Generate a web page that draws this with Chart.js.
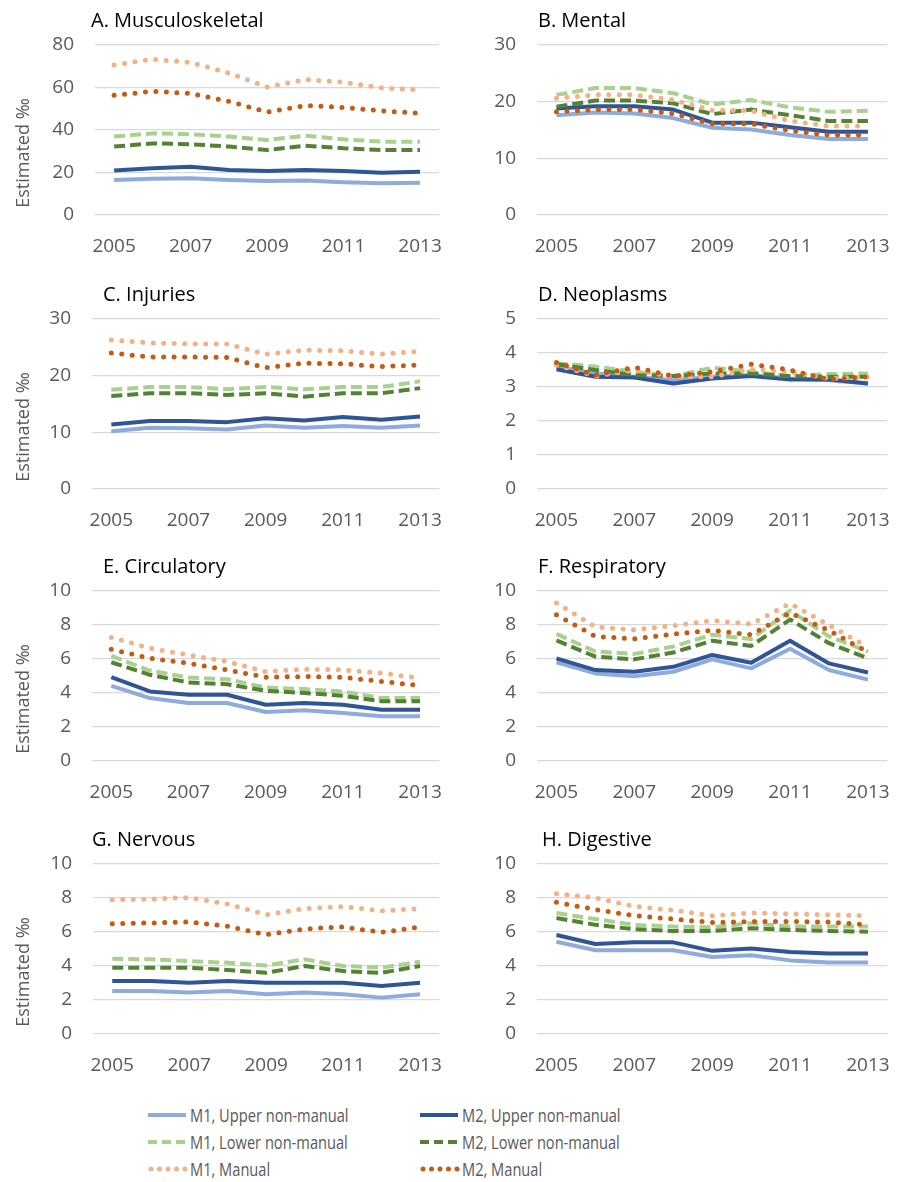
<!DOCTYPE html>
<html>
<head>
<meta charset="utf-8">
<script src="https://cdn.jsdelivr.net/npm/chart.js@4.4.1/dist/chart.umd.min.js"></script>
<style>
body { margin: 0; background: #fff; width: 910px; height: 1182px; position: relative; overflow: hidden; font-family: 'Open Sans', sans-serif; }
canvas { position: absolute; }
.ttl { position: absolute; font-size: 20px; line-height: 24px; color: #000; white-space: nowrap; }
.ylab { position: absolute; width: 200px; text-align: center; font-size: 18px; line-height: 24px; color: #595959; white-space: nowrap; transform: rotate(-90deg); }
.leg { position: absolute; font-size: 19px; line-height: 24px; color: #595959; white-space: nowrap; }
.leg span { display: inline-block; transform: scaleX(0.77); transform-origin: left center; }
.leg svg { position: absolute; }
</style>
</head>
<body>
<div id="wrap"></div>
<script>
// data, order: M1 upper, M2 upper, M1 lower, M2 lower, M1 manual, M2 manual
var years = ['2005', '2006', '2007', '2008', '2009', '2010', '2011', '2012', '2013'];
var series_names = ['M1, Upper non-manual', 'M2, Upper non-manual', 'M1, Lower non-manual',
	'M2, Lower non-manual', 'M1, Manual', 'M2, Manual'];

var musculoskeletal = [
	[16.5, 17.1, 17.3, 16.5, 16.0, 16.2, 15.4, 14.9, 15.2],
	[20.9, 22.0, 22.7, 21.2, 20.7, 21.2, 20.7, 19.9, 20.4],
	[36.9, 38.4, 38.0, 36.9, 35.3, 37.3, 35.6, 34.5, 34.5],
	[32.2, 33.7, 33.3, 32.2, 30.6, 32.6, 31.4, 30.6, 30.6],
	[70.6, 73.3, 71.8, 66.8, 60.2, 63.8, 62.5, 59.8, 58.9],
	[56.3, 58.2, 57.2, 53.5, 48.4, 51.5, 50.6, 49.0, 47.9]
];
var mental = [
	[17.6, 18.1, 17.9, 17.1, 15.4, 15.1, 14.1, 13.4, 13.4],
	[18.8, 19.2, 19.2, 18.6, 16.3, 16.3, 15.5, 14.7, 14.7],
	[21.2, 22.4, 22.4, 21.5, 19.5, 20.3, 19.0, 18.2, 18.4],
	[19.1, 20.2, 20.2, 19.7, 17.8, 18.6, 17.6, 16.6, 16.6],
	[20.6, 21.2, 21.2, 20.3, 18.5, 18.4, 16.6, 15.7, 15.7],
	[18.2, 18.6, 18.6, 17.9, 16.1, 16.1, 14.9, 14.1, 14.1]
];
var injuries = [
	[10.2, 10.8, 10.7, 10.5, 11.2, 10.8, 11.1, 10.8, 11.2],
	[11.4, 12.0, 12.0, 11.8, 12.5, 12.1, 12.7, 12.2, 12.8],
	[17.5, 18.0, 18.0, 17.6, 18.0, 17.6, 18.0, 18.0, 19.0],
	[16.4, 16.9, 16.9, 16.6, 16.9, 16.3, 16.9, 16.9, 17.8],
	[26.3, 25.8, 25.6, 25.6, 23.8, 24.5, 24.4, 23.8, 24.3],
	[24.0, 23.3, 23.3, 23.2, 21.4, 22.2, 22.1, 21.6, 21.9]
];
var neoplasms = [
	[3.60, 3.40, 3.30, 3.20, 3.30, 3.35, 3.25, 3.20, 3.10],
	[3.52, 3.30, 3.28, 3.10, 3.25, 3.32, 3.22, 3.22, 3.10],
	[3.70, 3.60, 3.45, 3.32, 3.57, 3.45, 3.32, 3.38, 3.40],
	[3.67, 3.50, 3.35, 3.32, 3.40, 3.40, 3.32, 3.30, 3.30],
	[3.65, 3.32, 3.50, 3.30, 3.30, 3.52, 3.45, 3.25, 3.30],
	[3.72, 3.35, 3.58, 3.32, 3.45, 3.67, 3.50, 3.22, 3.30]
];
var circulatory = [
	[4.42, 3.70, 3.41, 3.41, 2.88, 2.98, 2.83, 2.63, 2.63],
	[4.93, 4.09, 3.90, 3.90, 3.31, 3.41, 3.31, 3.02, 3.02],
	[6.18, 5.32, 4.91, 4.81, 4.33, 4.23, 4.09, 3.70, 3.70],
	[5.81, 5.07, 4.62, 4.52, 4.13, 4.00, 3.84, 3.51, 3.51],
	[7.27, 6.63, 6.24, 5.85, 5.26, 5.40, 5.36, 5.17, 4.87],
	[6.57, 6.04, 5.75, 5.36, 4.93, 4.97, 4.93, 4.68, 4.44]
];
var respiratory = [
	[5.80, 5.15, 4.99, 5.25, 5.98, 5.45, 6.60, 5.35, 4.79],
	[6.04, 5.35, 5.25, 5.54, 6.24, 5.78, 7.07, 5.74, 5.21],
	[7.48, 6.44, 6.30, 6.73, 7.43, 7.17, 8.85, 7.33, 6.44],
	[7.09, 6.14, 5.98, 6.38, 7.07, 6.77, 8.32, 6.93, 6.04],
	[9.30, 7.88, 7.72, 7.96, 8.26, 8.06, 9.27, 8.00, 6.70],
	[8.60, 7.33, 7.19, 7.47, 7.68, 7.43, 8.71, 7.68, 6.40]
];
var nervous = [
	[2.53, 2.53, 2.44, 2.53, 2.34, 2.44, 2.34, 2.14, 2.34],
	[3.12, 3.12, 3.02, 3.12, 3.02, 3.02, 3.02, 2.83, 3.02],
	[4.42, 4.39, 4.29, 4.19, 4.03, 4.39, 4.00, 3.90, 4.25],
	[3.90, 3.90, 3.90, 3.76, 3.60, 4.00, 3.70, 3.60, 4.00],
	[7.90, 7.93, 8.03, 7.64, 7.02, 7.37, 7.50, 7.25, 7.37],
	[6.49, 6.53, 6.60, 6.33, 5.85, 6.18, 6.30, 5.98, 6.30]
];
var digestive = [
	[5.43, 4.93, 4.93, 4.93, 4.53, 4.63, 4.33, 4.21, 4.21],
	[5.82, 5.29, 5.39, 5.39, 4.89, 5.03, 4.83, 4.73, 4.73],
	[7.12, 6.76, 6.42, 6.32, 6.28, 6.52, 6.32, 6.32, 6.32],
	[6.82, 6.42, 6.16, 6.06, 6.06, 6.22, 6.12, 6.06, 6.02],
	[8.25, 8.01, 7.51, 7.28, 6.96, 7.12, 7.06, 7.02, 6.96],
	[7.75, 7.32, 6.96, 6.76, 6.56, 6.62, 6.62, 6.58, 6.42]
];

// line styles per series
const series_styles = [
	{ color: '#8FAADC', dash: [], width: 4, cap: 'butt' },
	{ color: '#2F5597', dash: [], width: 4, cap: 'butt' },
	{ color: '#A9D18E', dash: [11, 5], width: 4, cap: 'butt' },
	{ color: '#548235', dash: [11, 5], width: 4, cap: 'butt' },
	{ color: '#F4B183', dash: [0, 10.5], width: 5, cap: 'round' },
	{ color: '#C55A11', dash: [0, 10.5], width: 5, cap: 'round' },
];

// panel layout
const row_tops = [0, 274, 546, 819];
const panels = [
	{ title: 'A. Musculoskeletal', data: musculoskeletal, max: 80, step: 20, col: 0, row: 0, tx: 91, axis_w: 95 },
	{ title: 'B. Mental', data: mental, max: 30, step: 10, col: 1, row: 0, tx: 538, axis_w: 82 },
	{ title: 'C. Injuries', data: injuries, max: 30, step: 10, col: 0, row: 1, tx: 103, axis_w: 92 },
	{ title: 'D. Neoplasms', data: neoplasms, max: 5, step: 1, col: 1, row: 1, tx: 538, axis_w: 82 },
	{ title: 'E. Circulatory', data: circulatory, max: 10, step: 2, col: 0, row: 2, tx: 103, axis_w: 92 },
	{ title: 'F. Respiratory', data: respiratory, max: 10, step: 2, col: 1, row: 2, tx: 538, axis_w: 82 },
	{ title: 'G. Nervous', data: nervous, max: 10, step: 2, col: 0, row: 3, tx: 92, axis_w: 93 },
	{ title: 'H. Digestive', data: digestive, max: 10, step: 2, col: 1, row: 3, tx: 542, axis_w: 82 },
];

Chart.defaults.font.family = "'Open Sans', sans-serif";
Chart.defaults.color = '#595959';

const wrap = document.getElementById('wrap');

function add_div(cls, text, left, top) {
	const d = document.createElement('div');
	d.className = cls;
	d.textContent = text;
	d.style.left = left + 'px';
	d.style.top = top + 'px';
	wrap.appendChild(d);
	return d;
}

function draw_panel(p) {
	const top = row_tops[p.row];
	const left = p.col === 0 ? 0 : 455;
	const width = p.col === 0 ? 462 : 455;

	const cv = document.createElement('canvas');
	cv.width = width;
	cv.height = 262;
	cv.style.left = left + 'px';
	cv.style.top = top + 'px';
	wrap.appendChild(cv);

	add_div('ttl', p.title, p.tx, top + 8);
	if (p.col === 0) {
		add_div('ylab', 'Estimated \u2030', 22 - 100, top + 153 - 12);
	}

	const datasets = p.data.map((vals, i) => ({
		label: series_names[i],
		data: vals,
		borderColor: series_styles[i].color,
		borderWidth: series_styles[i].width,
		borderDash: series_styles[i].dash,
		borderCapStyle: series_styles[i].cap,
		borderJoinStyle: 'round',
		pointRadius: 0,
		tension: 0,
		fill: false,
		order: 5 - i,
	}));

	new Chart(cv.getContext('2d'), {
		type: 'line',
		data: { labels: years, datasets: datasets },
		options: {
			responsive: false,
			animation: false,
			devicePixelRatio: 1,
			layout: { padding: { top: 45, right: p.col === 0 ? 4 : 6, left: 0, bottom: 0 } },
			plugins: { legend: { display: false }, tooltip: { enabled: false } },
			scales: {
				x: {
					offset: true,
					grid: { display: false, drawTicks: false },
					border: { display: false },
					ticks: {
						autoSkip: false,
						maxRotation: 0,
						padding: 20,
						font: { size: 19 },
						color: '#595959',
						callback: (v, i) => (i % 2 === 0 ? years[i] : ''),
					},
					afterFit: (s) => { s.height = 47; },
				},
				y: {
					min: 0,
					max: p.max,
					grid: { color: '#D9D9D9', lineWidth: 1.3, drawTicks: false },
					border: { display: false },
					ticks: {
						stepSize: p.step,
						padding: 21,
						font: { size: 19 },
						color: '#595959',
					},
					afterFit: (s) => { s.width = p.axis_w; },
				},
			},
		},
	});
}

panels.forEach(draw_panel);

// shared legend
const legend_pos = [
	{ x: 148, y: 1115 }, { x: 420, y: 1115 },
	{ x: 148, y: 1142 }, { x: 420, y: 1142 },
	{ x: 148, y: 1169 }, { x: 420, y: 1169 },
];
series_names.forEach((name, i) => {
	const st = series_styles[i];
	const pos = legend_pos[i];
	const d = add_div('leg', '', pos.x + 42, pos.y - 12);
	const sp = document.createElement('span');
	sp.textContent = name;
	d.appendChild(sp);
	let dash = '';
	if (st.dash.length) dash = st.cap === 'round' ? '0 8.5' : '9 5';
	d.insertAdjacentHTML('afterbegin',
		'<svg width="40" height="10" style="left:-42px;top:7px">' +
		'<line x1="' + (st.cap === 'round' ? 3 : 0) + '" y1="5" x2="38" y2="5" stroke="' + st.color +
		'" stroke-width="' + st.width + '" stroke-linecap="' + st.cap + '"' +
		(dash ? ' stroke-dasharray="' + dash + '"' : '') + '/></svg>');
});
</script>
</body>
</html>
